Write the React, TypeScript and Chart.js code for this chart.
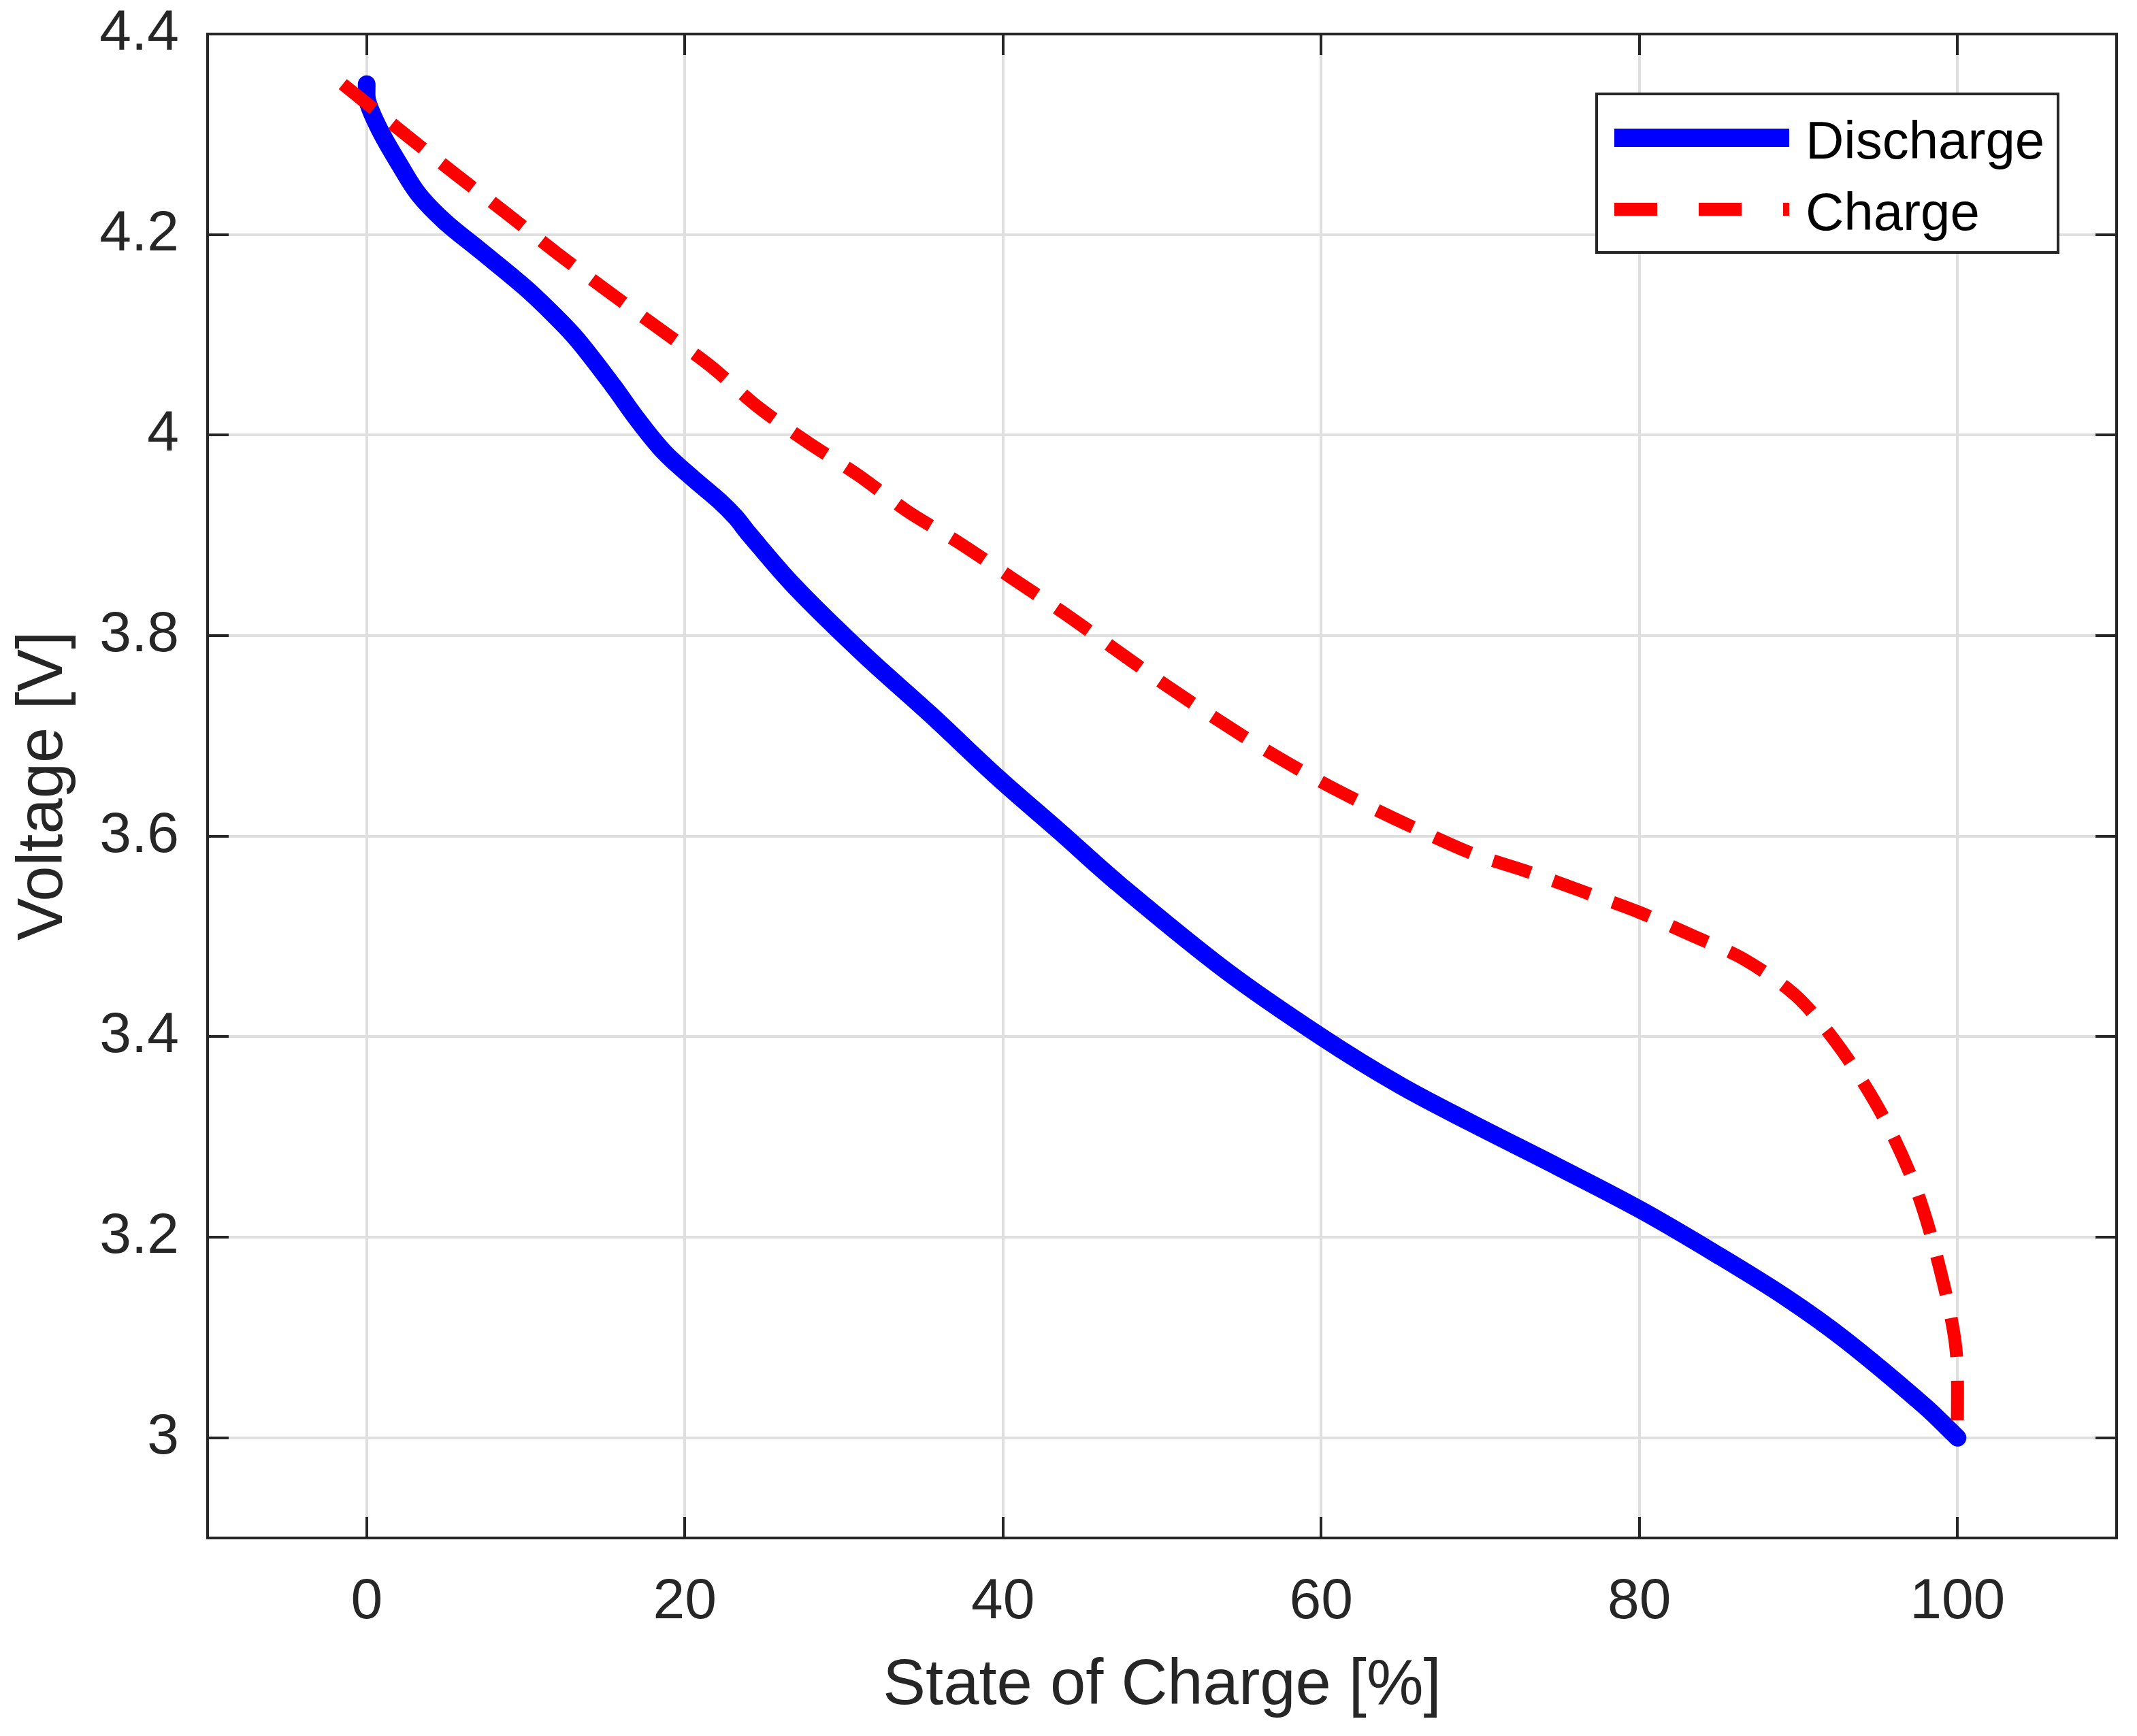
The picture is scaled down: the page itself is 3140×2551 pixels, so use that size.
import { useEffect, useRef } from "react";
import { Chart, registerables } from "chart.js";

Chart.register(...registerables);

// state of charge [%] and voltage [V]
const dischargeSoc = [
  0, 0.05, 0.85, 2.06, 3.27, 4.91, 7.15, 9.97, 11.76, 13.25, 15.5, 17.0, 18.7,
  20.5, 22.2, 23.2, 24.0, 26.9, 31.2, 35.4, 39.7, 43.6, 47.3, 54.0, 60.0, 64.9,
  69.3, 74.9, 80.1, 84.9, 89.2, 92.9, 97.9, 100,
];
const dischargeVolt = [
  4.35, 4.333, 4.3035, 4.27, 4.24, 4.213, 4.184, 4.147, 4.12, 4.095, 4.049,
  4.016, 3.983, 3.957, 3.934, 3.918, 3.902, 3.849, 3.782, 3.722, 3.658, 3.604,
  3.552, 3.466, 3.4, 3.352, 3.315, 3.27, 3.227, 3.1825, 3.14, 3.098, 3.032,
  3.0,
];
const chargeSoc = [
  -1.5, 2.5, 5.6, 8.8, 12.0, 15.2, 18.4, 21.6, 24.6, 27.7, 30.9, 34.0, 37.2,
  40.5, 43.6, 46.9, 50.1, 53.4, 56.6, 59.9, 63.1, 66.3, 69.6, 72.9, 76.4, 80.0,
  83.3, 86.6, 89.9, 92.7, 95.3, 97.4, 98.9, 99.9, 100,
];
const chargeVolt = [
  4.35, 4.299, 4.26, 4.221, 4.181, 4.143, 4.106, 4.069, 4.028, 3.993, 3.96,
  3.924, 3.893, 3.858, 3.825, 3.788, 3.752, 3.717, 3.685, 3.655, 3.629, 3.605,
  3.582, 3.565, 3.545, 3.524, 3.501, 3.477, 3.44, 3.387, 3.321, 3.248, 3.168,
  3.089, 3.0,
];
const socTicks = [0, 20, 40, 60, 80, 100];
const voltTicks = [3, 3.2, 3.4, 3.6, 3.8, 4, 4.2, 4.4];
const seriesNames = ["Discharge", "Charge"];

const AXIS_COLOR = "#262626";
const GRID_COLOR = "#dfdfdf";
const FONT = "'Liberation Sans', Arial, Helvetica, sans-serif";

// matlab style box, inner ticks and boxed legend
const boxAndLegend = {
  id: "boxAndLegend",
  afterDraw(chart: any) {
    const { ctx, chartArea: a, scales } = chart;
    const tick = 31;
    ctx.save();
    ctx.strokeStyle = AXIS_COLOR;
    ctx.lineWidth = 4;
    ctx.setLineDash([]);
    ctx.beginPath();
    socTicks.forEach((v) => {
      const x = Math.round(scales.x.getPixelForValue(v));
      ctx.moveTo(x, a.bottom);
      ctx.lineTo(x, a.bottom - tick);
      ctx.moveTo(x, a.top);
      ctx.lineTo(x, a.top + tick);
    });
    voltTicks.forEach((v) => {
      const y = Math.round(scales.y.getPixelForValue(v));
      ctx.moveTo(a.left, y);
      ctx.lineTo(a.left + tick, y);
      ctx.moveTo(a.right, y);
      ctx.lineTo(a.right - tick, y);
    });
    ctx.stroke();
    ctx.strokeRect(a.left, a.top, a.right - a.left, a.bottom - a.top);

    const lx = a.right - 764;
    const ly = a.top + 88;
    const lw = 678;
    const lh = 233;
    ctx.fillStyle = "#ffffff";
    ctx.fillRect(lx, ly, lw, lh);
    ctx.strokeRect(lx, ly, lw, lh);

    chart.data.datasets.forEach((ds: any, i: number) => {
      const rowY = ly + 64.5 + i * 105;
      ctx.strokeStyle = ds.borderColor;
      ctx.lineWidth = ds.legendWidth;
      ctx.lineCap = "butt";
      ctx.setLineDash(ds.borderDash ? [63, 61] : []);
      ctx.beginPath();
      ctx.moveTo(lx + 26, rowY);
      ctx.lineTo(lx + 283, rowY);
      ctx.stroke();
      ctx.setLineDash([]);
      ctx.fillStyle = "#000000";
      ctx.font = `78px ${FONT}`;
      ctx.textAlign = "left";
      ctx.textBaseline = "alphabetic";
      ctx.fillText(ds.label, lx + 307, rowY + 30);
    });
    ctx.restore();
  },
};

export default function App() {
  const chartRef = useRef<HTMLCanvasElement>(null);

  useEffect(() => {
    document.body.style.margin = "0";
    document.body.style.overflow = "hidden";
    if (!chartRef.current) return;

    const chart = new Chart(chartRef.current, {
      type: "line",
      data: {
        datasets: [
          {
            label: seriesNames[0],
            data: dischargeSoc.map((x, i) => ({ x, y: dischargeVolt[i] })),
            borderColor: "#0000ff",
            borderWidth: 26,
            legendWidth: 27,
            borderCapStyle: "round",
            borderJoinStyle: "round",
            pointRadius: 0,
            tension: 0.35,
            order: 1,
          } as any,
          {
            label: seriesNames[1],
            data: chargeSoc.map((x, i) => ({ x, y: chargeVolt[i] })),
            borderColor: "#ff0000",
            borderWidth: 19,
            legendWidth: 19,
            borderDash: [58, 35],
            borderCapStyle: "butt",
            borderJoinStyle: "round",
            pointRadius: 0,
            tension: 0.3,
            order: 0,
          } as any,
        ],
      },
      options: {
        animation: false,
        responsive: false,
        devicePixelRatio: 1,
        layout: { padding: { top: 50, right: 30, left: 0, bottom: 0 } },
        plugins: {
          legend: { display: false },
          tooltip: { enabled: false },
        },
        scales: {
          x: {
            type: "linear",
            min: -10,
            max: 110,
            afterBuildTicks: (s: any) => {
              s.ticks = socTicks.map((v) => ({ value: v }));
            },
            afterFit: (s: any) => {
              s.height = 291;
              s.paddingLeft = 0;
              s.paddingRight = 0;
            },
            grid: { color: GRID_COLOR, lineWidth: 4, drawTicks: false },
            border: { display: false },
            ticks: {
              color: AXIS_COLOR,
              font: { family: FONT, size: 84 },
              padding: 44,
              maxRotation: 0,
              autoSkip: false,
              callback: (v: any) => String(v),
            },
            title: {
              display: true,
              text: "State of Charge [%]",
              color: AXIS_COLOR,
              font: { family: FONT, size: 94 },
              padding: { top: 0, bottom: 17 },
            },
          },
          y: {
            type: "linear",
            min: 2.9,
            max: 4.4,
            afterBuildTicks: (s: any) => {
              s.ticks = voltTicks.map((v) => ({ value: v }));
            },
            afterFit: (s: any) => {
              s.width = 305;
              s.paddingTop = 0;
              s.paddingBottom = 0;
            },
            grid: { color: GRID_COLOR, lineWidth: 4, drawTicks: false },
            border: { display: false },
            ticks: {
              color: AXIS_COLOR,
              font: { family: FONT, size: 84 },
              padding: 42,
              autoSkip: false,
              callback: (v: any) => String(Number(Number(v).toFixed(1))),
            },
            title: {
              display: true,
              text: "Voltage [V]",
              color: AXIS_COLOR,
              font: { family: FONT, size: 94 },
              padding: { top: 9, bottom: 0 },
            },
          },
        },
      },
      plugins: [boxAndLegend],
    });

    return () => {
      chart.destroy();
    };
  }, []);

  return (
    <div style={{ width: 3140, height: 2551, background: "#ffffff" }}>
      <canvas
        ref={chartRef}
        width={3140}
        height={2551}
        style={{ display: "block", width: 3140, height: 2551 }}
      ></canvas>
    </div>
  );
}
